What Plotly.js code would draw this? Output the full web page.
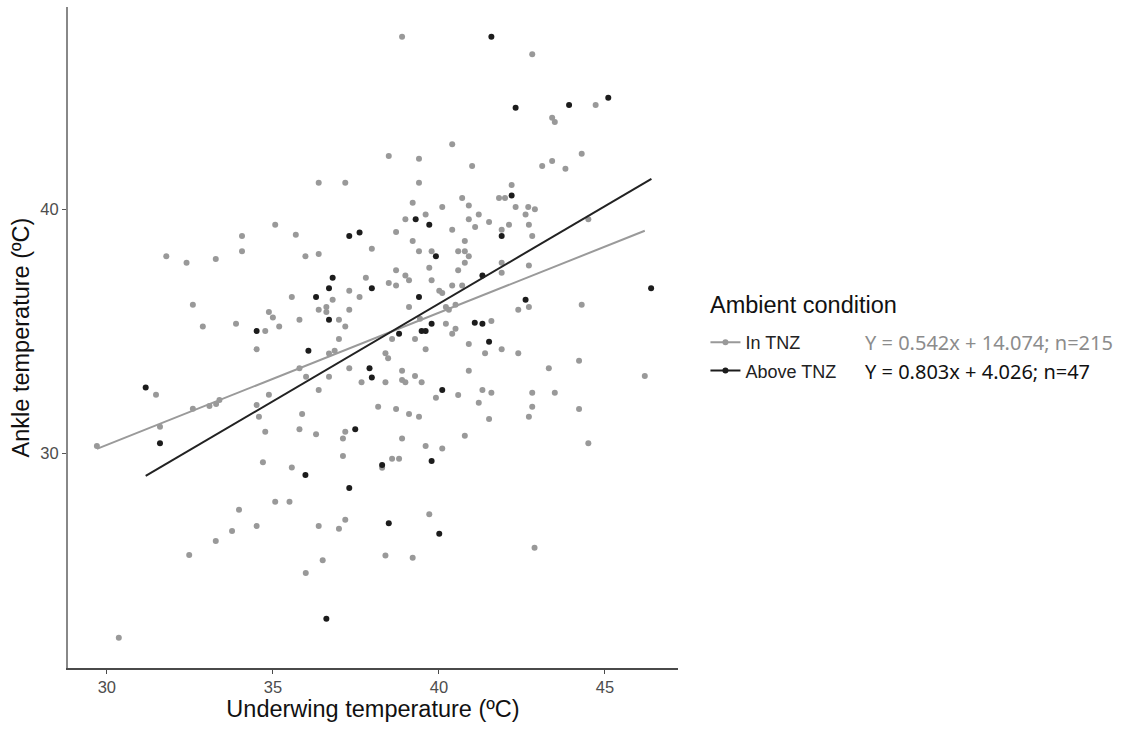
<!DOCTYPE html>
<html>
<head>
<meta charset="utf-8">
<script src="https://cdn.plot.ly/plotly-3.0.1.min.js"></script>
<style>html,body{margin:0;padding:0;background:#fff;}#chart{width:1132px;height:729px;}</style>
</head>
<body>
<div id="chart"></div>
<script>
// Series names, legend title and equations (from legend)
const legendTitle = "Ambient condition";
const groupNames = ["In TNZ", "Above TNZ"];
const equations = ["Y = 0.542x + 14.074; n=215", "Y = 0.803x + 4.026; n=47"];

// In TNZ (grey) points
const inX = [
36.38,37.18,35.07,34.07,35.69,37.98,31.79,32.40,33.28,34.07,35.98,36.38,37.80,37.30,35.57,36.80,37.61,32.59,36.38,36.61,36.61,37.30,34.88,35.00,35.80,36.99,32.89,33.89,35.19,37.18,34.77,
38.89,42.81,44.72,43.41,43.49,40.40,38.49,39.40,44.30,41.00,43.11,43.41,43.81,39.40,42.19,41.81,41.99,39.21,40.70,40.10,40.90,42.31,42.69,42.89,39.60,38.99,41.20,40.90,42.61,41.51,42.11,41.09,42.71,38.71,40.40,41.89,42.81,39.21,40.78,44.50,39.40,39.78,40.58,40.78,40.90,40.78,39.71,38.71,38.99,39.10,40.58,41.89,41.89,42.71,38.49,38.71,39.78,40.40,40.70,40.01,40.10,42.39,42.71,44.30,39.10,40.21,40.30,40.50,40.21,41.58,40.50,40.40,39.43,
34.51,36.99,36.69,36.86,35.80,36.00,36.69,37.30,37.67,36.38,31.48,34.88,32.59,33.09,33.29,33.39,34.51,31.60,29.70,34.58,35.88,34.77,35.80,36.30,37.18,37.11,37.11,34.70,35.57,35.07,35.50,33.98,33.77,34.51,33.28,32.48,36.38,36.99,37.18,36.50,35.99,30.36,
38.59,39.28,39.60,40.90,41.39,41.89,42.39,38.39,38.47,43.31,44.22,46.20,38.89,39.28,40.90,38.39,38.89,38.99,39.48,39.91,40.58,41.31,41.58,42.81,43.49,41.20,42.81,44.22,42.71,41.51,38.17,38.71,39.10,39.40,38.89,39.60,40.10,40.78,44.50,38.59,38.80,38.29,39.71,38.39,39.21,42.88
];
const inY = [
41.08,41.08,39.36,38.89,38.95,38.37,38.06,37.80,37.95,38.27,38.06,38.16,37.18,36.65,36.39,36.28,36.39,36.08,35.87,35.98,35.78,35.87,35.78,35.55,35.46,35.46,35.19,35.30,35.19,35.19,35.00,
47.06,46.34,44.26,43.74,43.57,42.65,42.17,42.06,42.27,41.76,41.76,41.97,41.65,41.08,40.98,40.45,40.45,40.26,40.45,40.08,40.14,40.08,40.08,39.99,39.78,39.58,39.78,39.58,39.78,39.47,39.36,39.26,39.36,39.06,39.15,39.15,38.89,38.69,38.69,39.58,38.27,38.27,38.27,38.27,38.06,37.80,37.59,37.49,37.28,37.08,37.49,37.80,37.39,37.69,36.97,36.87,37.08,36.87,36.87,36.65,36.56,35.87,35.98,36.08,35.98,35.98,35.87,36.08,35.30,35.41,35.09,34.89,35.50,
34.25,34.67,34.08,34.19,33.47,33.13,33.13,33.47,32.90,32.58,32.39,32.39,31.82,31.93,32.01,32.17,31.97,31.08,30.29,31.49,31.60,30.87,30.97,30.77,30.87,30.60,29.88,29.62,29.41,28.00,28.00,27.68,26.80,27.01,26.39,25.82,27.01,26.90,27.27,25.61,25.08,22.43,
34.67,34.67,34.25,34.47,34.09,34.25,34.09,34.09,33.88,33.47,33.78,33.16,33.37,33.16,33.37,32.90,32.99,32.90,32.90,32.27,32.38,32.58,32.47,32.47,32.47,32.06,31.90,31.80,31.49,31.39,31.90,31.80,31.60,31.49,30.60,30.29,30.19,30.71,30.40,29.77,29.77,29.40,27.49,25.80,25.71,26.12
];

// Above TNZ (black) points
const aboveX = [
37.30,37.61,36.80,36.69,37.98,36.30,36.69,34.51,
41.58,42.31,43.92,45.10,42.19,39.30,39.71,41.89,39.91,41.31,39.40,42.61,46.39,39.78,41.08,41.31,39.48,39.60,38.80,
36.07,37.91,37.98,31.17,31.60,37.48,35.98,37.30,36.61,
41.51,40.10,38.29,39.78,38.49,40.01
];
const aboveY = [
38.89,39.04,37.18,36.75,36.75,36.39,35.46,35.00,
47.06,44.15,44.26,44.56,40.55,39.58,39.36,38.89,38.06,37.28,36.39,36.28,36.75,35.30,35.34,35.30,35.00,35.00,34.89,
34.19,33.47,33.10,32.69,30.40,30.97,29.10,28.57,23.21,
34.56,32.58,29.51,29.67,27.12,26.69
];

// Fitted line end points
const inFitX = [29.7, 46.2];
const inFitY = [30.17, 39.11];
const aboveFitX = [31.17, 46.4];
const aboveFitY = [29.06, 41.24];

const xTicks = [30, 35, 40, 45];
const yTicks = [30, 40];

const greyCol = '#999999';
const blackCol = '#1c1c1c';
const font = 'Liberation Sans, Arial, sans-serif';

const traces = [
  {x: inX, y: inY, type: 'scatter', mode: 'markers', marker: {color: greyCol, size: 6}, showlegend: false, hoverinfo: 'x+y'},
  {x: aboveX, y: aboveY, type: 'scatter', mode: 'markers', marker: {color: blackCol, size: 6}, showlegend: false, hoverinfo: 'x+y'},
  {x: inFitX, y: inFitY, type: 'scatter', mode: 'lines', line: {color: '#9a9a9a', width: 2}, showlegend: false, hoverinfo: 'skip'},
  {x: aboveFitX, y: aboveFitY, type: 'scatter', mode: 'lines', line: {color: '#222222', width: 2}, showlegend: false, hoverinfo: 'skip'},
  // legend entries
  {x: [null], y: [null], type: 'scatter', mode: 'lines+markers', name: groupNames[0], legendgroup: 'a',
   line: {color: greyCol, width: 2}, marker: {color: greyCol, size: 6}},
  {x: [null], y: [null], type: 'scatter', mode: 'lines+markers', name: groupNames[1], legendgroup: 'b',
   line: {color: blackCol, width: 2}, marker: {color: blackCol, size: 6}}
];

const layout = {
  width: 1132, height: 729,
  margin: {l: 68, r: 454, t: 7, b: 61},
  paper_bgcolor: '#ffffff', plot_bgcolor: '#ffffff',
  font: {family: font, color: '#222'},
  xaxis: {
    range: [28.83, 47.2], tickvals: xTicks, ticktext: xTicks.map(String),
    showgrid: false, zeroline: false, showline: true, linecolor: '#4a4a4a', linewidth: 1.5,
    ticks: 'outside', ticklen: 4, tickcolor: '#4a4a4a', tickwidth: 1,
    tickfont: {size: 16.5, color: '#4d4d4d', family: font},
    title: {text: 'Underwing temperature (ºC)', font: {size: 23.5, color: '#111', family: font}, standoff: 4}
  },
  yaxis: {
    range: [21.19, 48.28], tickvals: yTicks, ticktext: yTicks.map(String),
    showgrid: false, zeroline: false, showline: true, linecolor: '#888', linewidth: 2,
    ticks: 'outside', ticklen: 4, tickcolor: '#555', tickwidth: 1,
    tickfont: {size: 16.5, color: '#4d4d4d', family: font},
    title: {text: 'Ankle temperature (ºC)', font: {size: 23.5, color: '#111', family: font}, standoff: 4}
  },
  legend: {
    x: 1.045, xanchor: 'left', y: 0.5205, yanchor: 'top',
    font: {size: 18, color: '#222', family: font},
    traceorder: 'grouped', tracegroupgap: 2,
    bgcolor: 'rgba(0,0,0,0)'
  },
  annotations: [
    {xref: 'paper', yref: 'paper', x: 1.049, y: 0.549, xanchor: 'left', yanchor: 'middle', showarrow: false,
     text: legendTitle, font: {size: 23.5, color: '#111', family: font}},
    {xref: 'paper', yref: 'paper', x: 1.303, y: 0.493, xanchor: 'left', yanchor: 'middle', showarrow: false,
     text: equations[0], font: {size: 20, color: '#8c8c8c', family: 'Noto Sans, sans-serif'}},
    {xref: 'paper', yref: 'paper', x: 1.303, y: 0.449, xanchor: 'left', yanchor: 'middle', showarrow: false,
     text: equations[1], font: {size: 20, color: '#111', family: 'Noto Sans, sans-serif'}}
  ]
};

Plotly.newPlot('chart', traces, layout, {displayModeBar: false, staticPlot: true});
</script>
</body>
</html>
